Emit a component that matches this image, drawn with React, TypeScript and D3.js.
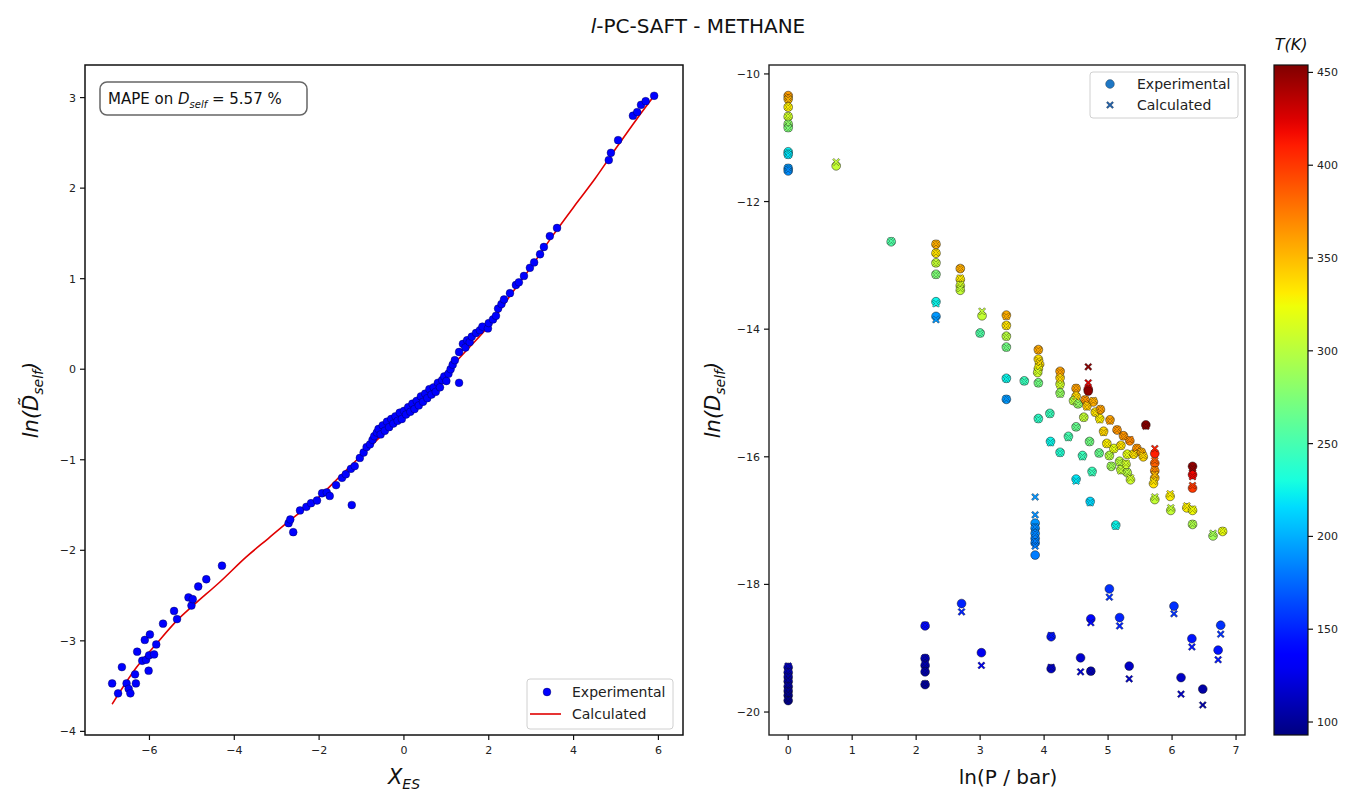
import React from "react";
import * as d3 from "d3";

// ---------- DATA ----------
// Left panel: experimental points [X_ES, ln(D~self)]
const leftExperimental: [number, number][] = [
  [-6.88, -3.47], [-6.74, -3.58], [-6.65, -3.29], [-6.54, -3.47], [-6.49, -3.53], [-6.45, -3.58],
  [-6.34, -3.37], [-6.32, -3.47], [-6.29, -3.12], [-6.17, -3.22], [-6.11, -2.99], [-6.08, -3.21],
  [-6.02, -3.33], [-5.99, -2.93], [-6.01, -3.16], [-5.89, -3.15], [-5.84, -3.04], [-5.68, -2.81],
  [-5.42, -2.67], [-5.35, -2.76], [-5.08, -2.52], [-5.01, -2.61], [-4.98, -2.54], [-4.85, -2.4],
  [-4.66, -2.32], [-4.29, -2.17], [-2.72, -1.7], [-2.61, -1.8], [-2.68, -1.66],
  [-2.45, -1.56], [-2.3, -1.52], [-2.19, -1.48], [-2.05, -1.45], [-1.93, -1.37], [-1.82, -1.36],
  [-1.75, -1.4], [-1.23, -1.5], [-1.6, -1.28], [-1.46, -1.2], [-1.37, -1.16], [-1.25, -1.1],
  [-1.16, -1.07], [-1.04, -0.98], [-0.95, -0.92], [-0.88, -0.86], [-0.8, -0.83], [-0.74, -0.78],
  [-0.7, -0.74], [-0.64, -0.7], [-0.6, -0.66], [-0.55, -0.72], [-0.5, -0.62], [-0.45, -0.68],
  [-0.4, -0.58], [-0.35, -0.64], [-0.3, -0.55], [-0.25, -0.6], [-0.2, -0.52], [-0.15, -0.57],
  [-0.1, -0.48], [-0.05, -0.55], [0.0, -0.46], [0.05, -0.5], [0.1, -0.42], [0.15, -0.47],
  [0.2, -0.38], [0.25, -0.44], [0.3, -0.35], [0.35, -0.4], [0.4, -0.3], [0.45, -0.36],
  [0.5, -0.27], [0.55, -0.32], [0.6, -0.22], [0.65, -0.28], [0.7, -0.2], [0.75, -0.25],
  [0.8, -0.15], [0.85, -0.2], [0.9, -0.12], [0.95, -0.08], [1.0, -0.13], [1.05, -0.05],
  [1.1, 0.0], [1.15, 0.05], [1.2, 0.1], [1.3, -0.15], [1.3, 0.19], [1.39, 0.28], [1.45, 0.24],
  [1.49, 0.32], [1.55, 0.3], [1.6, 0.36], [1.7, 0.4], [1.79, 0.43], [1.85, 0.47], [1.98, 0.45],
  [2.0, 0.51], [2.1, 0.55], [2.17, 0.59], [2.22, 0.67], [2.3, 0.72], [2.36, 0.77], [2.5, 0.84],
  [2.64, 0.93], [2.71, 0.96], [2.83, 1.03], [2.97, 1.12], [3.07, 1.18], [3.21, 1.27], [3.3, 1.35],
  [3.44, 1.47], [3.61, 1.56], [4.83, 2.31], [4.88, 2.39], [5.05, 2.53], [5.4, 2.8], [5.5, 2.84],
  [5.59, 2.92], [5.7, 2.96], [5.9, 3.02],
];

// Left panel: calculated curve [X_ES, ln(D~self)]
const leftCalculated: [number, number][] = [
  [-6.88, -3.7], [-6.3, -3.29], [-5.83, -3.03], [-5.36, -2.78], [-4.97, -2.61], [-4.34, -2.35],
  [-3.71, -2.07], [-3.2, -1.87], [-2.69, -1.67], [-2.0, -1.41], [-1.5, -1.18],
  [-1.0, -0.95], [-0.5, -0.72], [0.0, -0.5], [0.5, -0.27], [1.0, -0.03], [1.5, 0.22],
  [2.0, 0.48], [2.5, 0.81], [3.0, 1.13], [3.5, 1.47], [4.0, 1.79], [4.5, 2.1], [5.0, 2.44],
  [5.5, 2.77], [5.9, 3.02],
];

// Right panel: [ln(P/bar), ln(Dself) experimental, ln(Dself) calculated, T(K)]
const rightPoints: [number, number, number, number][] = [
  [0, -10.34, -10.36, 362], [0, -10.39, -10.4, 352], [0, -10.52, -10.52, 330], [0, -10.67, -10.66, 310],
  [0, -10.79, -10.78, 282], [0, -10.84, -10.85, 275], [0, -11.22, -11.24, 222], [0, -11.26, -11.27, 218],
  [0, -11.48, -11.47, 192], [0, -11.52, -11.5, 188], [0.75, -11.44, -11.38, 305], [1.61, -12.63, -12.62, 255],
  [2.31, -12.67, -12.66, 355], [2.31, -12.81, -12.8, 335], [2.31, -12.96, -12.97, 305], [2.31, -13.14, -13.15, 275],
  [2.31, -13.57, -13.6, 225], [2.31, -13.8, -13.85, 192],
  [2.69, -13.05, -13.05, 355], [2.69, -13.22, -13.2, 332], [2.69, -13.32, -13.3, 312], [2.69, -13.39, -13.36, 305],
  [3.03, -13.79, -13.72, 305], [3.0, -14.06, -14.07, 255],
  [3.41, -13.78, -13.8, 355], [3.41, -13.94, -13.95, 335], [3.41, -14.11, -14.12, 300], [3.41, -14.28, -14.29, 270],
  [3.41, -14.77, -14.78, 225], [3.41, -15.1, -15.09, 192], [3.69, -14.81, -14.82, 245],
  [3.91, -14.32, -14.33, 357], [3.91, -14.47, -14.49, 335], [3.93, -14.55, -14.53, 338], [3.91, -14.62, -14.6, 328],
  [3.9, -14.68, -14.66, 310], [3.91, -14.84, -14.85, 270], [3.91, -15.4, -15.41, 240],
  [4.09, -15.32, -15.33, 245], [4.1, -15.76, -15.78, 225], [4.25, -15.93, -15.94, 235],
  [4.25, -14.66, -14.67, 360], [4.25, -14.76, -14.78, 340], [4.25, -14.86, -14.88, 310], [4.25, -15.0, -15.02, 285],
  [4.38, -15.68, -15.7, 250], [4.5, -14.93, -14.92, 360], [4.5, -15.05, -15.06, 340], [4.46, -15.12, -15.13, 300],
  [4.53, -15.17, -15.18, 285], [4.5, -15.53, -15.54, 265], [4.5, -16.35, -16.38, 220], [4.6, -15.98, -16.0, 245],
  [4.62, -15.38, -15.39, 305], [4.64, -15.11, -15.1, 365], [4.67, -15.2, -15.22, 345],
  [4.69, -14.94, -14.84, 425], [4.69, -14.97, -14.59, 450],
  [4.71, -15.76, -15.77, 270], [4.72, -16.7, -16.72, 215], [4.75, -16.23, -16.25, 245], [4.77, -15.14, -15.12, 355],
  [4.8, -15.3, -15.31, 335], [4.86, -15.94, -15.95, 265], [4.87, -15.4, -15.42, 330], [4.88, -15.26, -15.25, 360],
  [4.93, -15.6, -15.62, 340], [4.98, -15.79, -15.8, 330], [5.02, -15.98, -15.99, 300], [5.03, -15.42, -15.44, 360],
  [5.05, -16.15, -16.14, 290], [5.09, -15.87, -15.88, 320], [5.12, -17.07, -17.09, 225], [5.14, -15.58, -15.57, 365],
  [5.18, -16.07, -16.09, 300], [5.2, -15.82, -15.83, 335], [5.2, -16.2, -16.22, 305], [5.24, -15.67, -15.68, 365],
  [5.3, -15.96, -15.97, 320], [5.3, -16.25, -16.24, 300], [5.34, -15.75, -15.73, 370], [5.35, -16.36, -16.33, 310],
  [5.28, -16.12, -16.1, 310], [5.4, -15.96, -15.95, 335], [5.45, -15.87, -15.86, 365], [5.52, -15.93, -15.92, 355],
  [5.55, -16.0, -15.98, 340], [5.59, -15.5, -15.52, 452],
  [5.73, -15.95, -15.87, 410], [5.73, -16.1, -16.06, 385], [5.73, -16.22, -16.2, 370], [5.73, -16.33, -16.28, 350],
  [5.71, -16.42, -16.38, 335], [5.73, -16.67, -16.63, 305],
  [5.97, -16.62, -16.58, 330], [5.98, -16.84, -16.8, 305], [6.23, -16.8, -16.77, 330], [6.32, -16.84, -16.82, 325],
  [6.32, -17.06, -17.05, 295], [6.32, -16.15, -16.18, 448], [6.32, -16.28, -16.31, 420], [6.32, -16.49, -16.45, 400],
  [6.64, -17.24, -17.2, 290], [6.79, -17.17, -17.16, 322],
  [3.86, -17.04, -16.63, 190], [3.86, -17.12, -16.91, 188], [3.86, -17.2, -17.1, 186], [3.86, -17.28, -17.2, 184],
  [3.86, -17.35, -17.32, 183], [3.86, -17.54, -17.4, 182],
  [0, -19.3, -19.28, 110], [0, -19.38, -19.36, 108], [0, -19.45, -19.44, 106], [0, -19.52, -19.5, 104],
  [0, -19.6, -19.58, 102], [0, -19.67, -19.66, 100], [0, -19.74, -19.72, 98], [0, -19.82, -19.8, 96],
  [2.14, -18.65, -18.64, 140], [2.14, -19.16, -19.15, 110], [2.14, -19.27, -19.25, 108], [2.14, -19.37, -19.36, 106],
  [2.14, -19.57, -19.56, 102], [2.71, -18.3, -18.43, 150], [3.02, -19.07, -19.27, 128], [4.11, -18.82, -18.8, 145],
  [4.11, -19.32, -19.3, 115], [4.57, -19.15, -19.37, 118], [4.73, -18.54, -18.6, 140], [4.73, -19.36, -19.36, 110],
  [5.02, -18.07, -18.2, 155], [5.18, -18.52, -18.65, 150], [5.33, -19.28, -19.48, 115], [6.03, -18.34, -18.46, 155],
  [6.14, -19.46, -19.72, 115], [6.31, -18.85, -18.98, 145], [6.48, -19.64, -19.89, 105], [6.72, -19.03, -19.18, 145],
  [6.76, -18.64, -18.78, 155],
];

const leftXTicks = [-6, -4, -2, 0, 2, 4, 6];
const leftYTicks = [-4, -3, -2, -1, 0, 1, 2, 3];
const rightXTicks = [0, 1, 2, 3, 4, 5, 6, 7];
const rightYTicks = [-20, -18, -16, -14, -12, -10];
const colorTicks = [100, 150, 200, 250, 300, 350, 400, 450];
const tRange: [number, number] = [93, 454];

// ---------- HELPERS ----------
const FONT = "DejaVu Sans, Verdana, sans-serif";

const jetR = d3.scaleLinear().domain([0, 0.35, 0.66, 0.89, 1]).range([0, 0, 1, 1, 0.5]).clamp(true);
const jetG = d3.scaleLinear().domain([0, 0.125, 0.375, 0.64, 0.91, 1]).range([0, 0, 1, 1, 0, 0]).clamp(true);
const jetB = d3.scaleLinear().domain([0, 0.11, 0.34, 0.65, 1]).range([0.5, 1, 1, 0, 0]).clamp(true);
const tNorm = d3.scaleLinear().domain(tRange).range([0, 1]).clamp(true);
const jet = (t: number) => {
  const v = tNorm(t);
  return d3.rgb(jetR(v) * 255, jetG(v) * 255, jetB(v) * 255).formatHex();
};

const xMarker = (r: number) => {
  const a = r, w = r * 0.36;
  return `M${-a + w},${-a}L0,${-w}L${a - w},${-a}L${a},${-a + w}L${w},0L${a},${a - w}L${a - w},${a}L0,${w}L${-a + w},${a}L${-a},${a - w}L${-w},0L${-a},${-a + w}Z`;
};

export default function App() {
  // Left panel geometry
  const L = { x0: 85, x1: 683, y0: 65, y1: 735 };
  const lx = d3.scaleLinear().domain([-7.52, 6.58]).range([L.x0, L.x1]);
  const ly = d3.scaleLinear().domain([-4.04, 3.36]).range([L.y1, L.y0]);
  // Right panel geometry
  const R = { x0: 769, x1: 1245, y0: 65, y1: 735 };
  const rx = d3.scaleLinear().domain([-0.3, 7.14]).range([R.x0, R.x1]);
  const ry = d3.scaleLinear().domain([-20.36, -9.86]).range([R.y1, R.y0]);
  // Colorbar
  const C = { x0: 1274, x1: 1308, y0: 65, y1: 735 };
  const cy = d3.scaleLinear().domain(tRange).range([C.y1, C.y0]);

  const line = d3.line<[number, number]>().x(d => lx(d[0])).y(d => ly(d[1])).curve(d3.curveMonotoneX);

  const gradStops = d3.range(0, 1.0001, 0.02);

  const tickFont = { fontFamily: FONT, fontSize: 11, fill: "#222" } as const;

  return (
    <svg width={1354} height={796} style={{ position: "absolute", left: 0, top: 0, background: "#fff" }}
      xmlns="http://www.w3.org/2000/svg">
      <defs>
        <linearGradient id="jetgrad" x1="0" y1="1" x2="0" y2="0">
          {gradStops.map((s, i) => (
            <stop key={i} offset={s} stopColor={jet(tRange[0] + s * (tRange[1] - tRange[0]))} />
          ))}
        </linearGradient>
        <clipPath id="clipL"><rect x={L.x0} y={L.y0} width={L.x1 - L.x0} height={L.y1 - L.y0} /></clipPath>
        <clipPath id="clipR"><rect x={R.x0} y={R.y0} width={R.x1 - R.x0} height={R.y1 - R.y0} /></clipPath>
      </defs>
      <rect x={0} y={0} width={1354} height={796} fill="#fff" />

      {/* Title */}
      <text x={698} y={33} textAnchor="middle" style={{ fontFamily: FONT, fontSize: 20, fill: "#111" }}>
        <tspan fontStyle="italic">l</tspan>
        <tspan>-PC-SAFT - METHANE</tspan>
      </text>

      {/* ---------- LEFT PANEL ---------- */}
      <g clipPath="url(#clipL)">
        <path d={line(leftCalculated) || ""} fill="none" stroke="#e00000" strokeWidth={1.6} />
        {leftExperimental.map((d, i) => (
          <circle key={i} cx={lx(d[0])} cy={ly(d[1])} r={3.9} fill="#0000ff" stroke="#000040" strokeWidth={0.4} />
        ))}
      </g>
      <rect x={L.x0} y={L.y0} width={L.x1 - L.x0} height={L.y1 - L.y0} fill="none" stroke="#111" strokeWidth={1.5} />
      {leftXTicks.map(t => (
        <g key={"lx" + t}>
          <line x1={lx(t)} x2={lx(t)} y1={L.y1} y2={L.y1 + 5} stroke="#111" strokeWidth={1.2} />
          <text x={lx(t)} y={L.y1 + 19} textAnchor="middle" style={tickFont}>{t < 0 ? "\u2212" + Math.abs(t) : String(t)}</text>
        </g>
      ))}
      {leftYTicks.map(t => (
        <g key={"ly" + t}>
          <line x1={L.x0 - 5} x2={L.x0} y1={ly(t)} y2={ly(t)} stroke="#111" strokeWidth={1.2} />
          <text x={L.x0 - 9} y={ly(t) + 4} textAnchor="end" style={tickFont}>{t < 0 ? "\u2212" + Math.abs(t) : String(t)}</text>
        </g>
      ))}
      {/* Left axis labels */}
      <text x={404} y={784} textAnchor="middle" style={{ fontFamily: FONT, fontSize: 21, fontStyle: "italic", fill: "#111" }}>
        <tspan>X</tspan>
        <tspan fontSize={14} dy={5}>ES</tspan>
      </text>
      <text transform="translate(38,400) rotate(-90)" textAnchor="middle"
        style={{ fontFamily: FONT, fontSize: 21, fontStyle: "italic", fill: "#111" }}>
        <tspan>{"ln(D\u0303"}</tspan>
        <tspan fontSize={14} dy={5}>self</tspan>
        <tspan dy={-5}>)</tspan>
      </text>
      {/* MAPE box */}
      <rect x={100} y={82} width={207} height={33} rx={7} fill="#fff" stroke="#666" strokeWidth={1.5} />
      <text x={108} y={104} style={{ fontFamily: FONT, fontSize: 15, fill: "#111" }}>
        <tspan>MAPE on </tspan>
        <tspan fontStyle="italic">D</tspan>
        <tspan fontStyle="italic" fontSize={10} dy={4}>self</tspan>
        <tspan dy={-4}>{"\u00a0= 5.57 %"}</tspan>
      </text>
      {/* Left legend */}
      <rect x={527} y={679} width={146} height={50} rx={3} fill="#fff" stroke="#d0d0d0" strokeWidth={1} />
      <circle cx={547} cy={692} r={3.9} fill="#0000ff" stroke="#000040" strokeWidth={0.4} />
      <text x={572} y={697} style={{ fontFamily: FONT, fontSize: 14, fill: "#222" }}>Experimental</text>
      <line x1={530} x2={561} y1={714} y2={714} stroke="#e00000" strokeWidth={1.6} />
      <text x={572} y={719} style={{ fontFamily: FONT, fontSize: 14, fill: "#222" }}>Calculated</text>

      {/* ---------- RIGHT PANEL ---------- */}
      <g clipPath="url(#clipR)">
        {rightPoints.map((d, i) => (
          <circle key={"e" + i} cx={rx(d[0])} cy={ry(d[1])} r={4.4} fill={jet(d[3])} stroke="#111" strokeWidth={0.6} strokeOpacity={0.8} />
        ))}
        {rightPoints.map((d, i) => (
          <path key={"c" + i} d={xMarker(3.6)} transform={`translate(${rx(d[0])},${ry(d[2])})`}
            fill={jet(d[3])} stroke="#111" strokeWidth={0.5} strokeOpacity={0.8} />
        ))}
      </g>
      <rect x={R.x0} y={R.y0} width={R.x1 - R.x0} height={R.y1 - R.y0} fill="none" stroke="#222" strokeWidth={1.4} />
      {rightXTicks.map(t => (
        <g key={"rx" + t}>
          <line x1={rx(t)} x2={rx(t)} y1={R.y1} y2={R.y1 + 5} stroke="#111" strokeWidth={1.2} />
          <text x={rx(t)} y={R.y1 + 19} textAnchor="middle" style={tickFont}>{String(t)}</text>
        </g>
      ))}
      {rightYTicks.map(t => (
        <g key={"ry" + t}>
          <line x1={R.x0 - 5} x2={R.x0} y1={ry(t)} y2={ry(t)} stroke="#111" strokeWidth={1.2} />
          <text x={R.x0 - 9} y={ry(t) + 4} textAnchor="end" style={tickFont}>{"\u2212" + Math.abs(t)}</text>
        </g>
      ))}
      <text x={1008} y={784} textAnchor="middle" style={{ fontFamily: FONT, fontSize: 20, fill: "#111" }}>ln(P / bar)</text>
      <text transform="translate(720,400) rotate(-90)" textAnchor="middle"
        style={{ fontFamily: FONT, fontSize: 21, fontStyle: "italic", fill: "#111" }}>
        <tspan>ln(D</tspan>
        <tspan fontSize={14} dy={5}>self</tspan>
        <tspan dy={-5}>)</tspan>
      </text>
      {/* Right legend */}
      <rect x={1090} y={72} width={148} height={46} rx={3} fill="#fff" stroke="#d0d0d0" strokeWidth={1} />
      <circle cx={1110} cy={84} r={4.4} fill="#1f77c4" stroke="#111" strokeWidth={0.5} strokeOpacity={0.6} />
      <text x={1137} y={89} style={{ fontFamily: FONT, fontSize: 14, fill: "#222" }}>Experimental</text>
      <path d={xMarker(3.6)} transform="translate(1110,105)" fill="#1f5fa8" stroke="#111" strokeWidth={0.5} strokeOpacity={0.6} />
      <text x={1137} y={110} style={{ fontFamily: FONT, fontSize: 14, fill: "#222" }}>Calculated</text>

      {/* ---------- COLORBAR ---------- */}
      <rect x={C.x0} y={C.y0} width={C.x1 - C.x0} height={C.y1 - C.y0} fill="url(#jetgrad)" stroke="#111" strokeWidth={1.2} />
      {colorTicks.map(t => (
        <g key={"ct" + t}>
          <line x1={C.x1} x2={C.x1 + 5} y1={cy(t)} y2={cy(t)} stroke="#111" strokeWidth={1.2} />
          <text x={C.x1 + 9} y={cy(t) + 4} style={tickFont}>{String(t)}</text>
        </g>
      ))}
      <text x={1291} y={50} textAnchor="middle" style={{ fontFamily: FONT, fontSize: 16, fontStyle: "italic", fill: "#111" }}>T(K)</text>
    </svg>
  );
}
